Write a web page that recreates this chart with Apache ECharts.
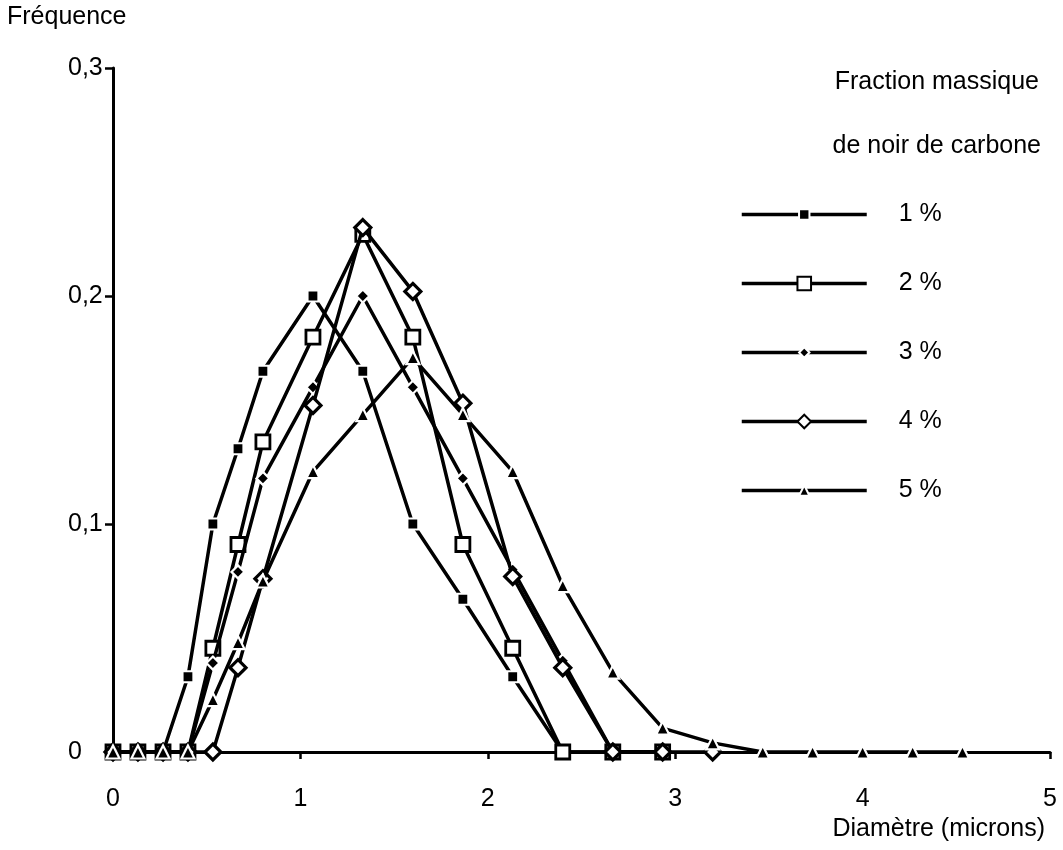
<!DOCTYPE html>
<html><head><meta charset="utf-8">
<script src="https://cdn.jsdelivr.net/npm/echarts@6/dist/echarts.min.js"></script>
<style>html,body{margin:0;padding:0;background:#fff}#c{width:1063px;height:850px}</style>
</head><body><div id="c"></div>
<script>
// Diameter (microns) of each size class
const diameters = [0, 0.133, 0.267, 0.4, 0.533, 0.667, 0.8, 1.067, 1.333, 1.6, 1.867, 2.133, 2.4, 2.667, 2.933, 3.2, 3.467, 3.733, 4.0, 4.267, 4.533];
// Frequencies per carbon-black mass fraction
const freq1 = [0, 0, 0, 0.033, 0.1, 0.133, 0.167, 0.2, 0.167, 0.1, 0.067, 0.033, 0, 0, 0];
const freq2 = [0, 0, 0, 0, 0.0455, 0.091, 0.136, 0.182, 0.227, 0.182, 0.091, 0.0455, 0, 0, 0];
const freq3 = [0, 0, 0, 0, 0.039, 0.079, 0.12, 0.16, 0.2, 0.16, 0.12, 0.08, 0.04, 0, 0];
const freq4 = [0, 0, 0, 0, 0, 0.037, 0.076, 0.152, 0.23, 0.202, 0.153, 0.077, 0.037, 0, 0, 0];
const freq5 = [0, 0, 0, 0, 0.023, 0.048, 0.075, 0.123, 0.148, 0.173, 0.148, 0.123, 0.073, 0.035, 0.0105, 0.004, 0, 0, 0, 0, 0];
const seriesNames = ['1 %', '2 %', '3 %', '4 %', '5 %'];
const xTickLabels = ['0', '1', '2', '3', '4', '5'];
const yTickLabels = ['0', '0,1', '0,2', '0,3'];

const FONT = 'Liberation Sans, Arial, Helvetica, sans-serif';
const FS = 25;
const pairs = v => v.map((y, i) => [diameters[i], y]);

const markerStyles = [
  {symbol: 'rect', symbolSize: 11, itemStyle: {color: '#000', borderColor: '#fff', borderWidth: 2.2}},
  {symbol: 'rect', symbolSize: 14, itemStyle: {color: '#fff', borderColor: '#000', borderWidth: 2.8}},
  {symbol: 'diamond', symbolSize: 13, itemStyle: {color: '#000', borderColor: '#fff', borderWidth: 2.2}},
  {symbol: 'diamond', symbolSize: 16, itemStyle: {color: '#fff', borderColor: '#000', borderWidth: 3.2}},
  {symbol: 'triangle', symbolSize: 13, itemStyle: {color: '#000', borderColor: '#fff', borderWidth: 2.2}}
];
const allFreq = [freq1, freq2, freq3, freq4, freq5];

const series = allFreq.map((f, i) => Object.assign({
  name: seriesNames[i],
  type: 'line',
  data: pairs(f),
  showSymbol: true,
  showAllSymbol: true,
  lineStyle: {color: '#000', width: 3.5},
  emphasis: {disabled: true},
  animation: false,
  z: 2 + i
}, markerStyles[i]));

const legendBase = {
  orient: 'vertical', left: 740, padding: 0, itemWidth: 125,
  itemGap: 113, selectedMode: false,
  lineStyle: {width: 3.5, color: '#000'},
  textStyle: {fontFamily: FONT, fontSize: FS, color: '#000', lineHeight: 24, padding: [0, 0, 0, 27]}
};
const titleStyle = {fontFamily: FONT, fontSize: FS, fontWeight: 'normal', color: '#000'};

const chart = echarts.init(document.getElementById('c'), null, {renderer: 'canvas'});
chart.setOption({
  backgroundColor: '#fff',
  animation: false,
  title: [
    {text: 'Fréquence', left: 7, top: 5, textStyle: titleStyle, padding: 0},
    {text: 'Fraction massique', right: 24, top: 70, textStyle: titleStyle, padding: 0},
    {text: 'de noir de carbone', right: 22, top: 134, textStyle: titleStyle, padding: 0},
    {text: 'Diamètre (microns)', right: 18, top: 817, textStyle: titleStyle, padding: 0}
  ],
  legend: [
    Object.assign({}, legendBase, {data: ['1 %', '3 %', '5 %'], top: 202, itemHeight: 13}),
    Object.assign({}, legendBase, {data: ['2 %', '4 %'], top: 271, itemHeight: 17})
  ],
  grid: {left: 113, right: 13, top: 68, bottom: 98, containLabel: false},
  xAxis: {
    type: 'value', min: 0, max: 5, interval: 1,
    axisLine: {onZero: false, lineStyle: {color: '#000', width: 3}},
    axisTick: {show: true, length: 7, lineStyle: {color: '#000', width: 2.5}},
    splitLine: {show: false},
    axisLabel: {margin: 35, fontFamily: FONT, fontSize: FS, color: '#000',
      formatter: v => xTickLabels[Math.round(v)]}
  },
  yAxis: {
    type: 'value', min: 0, max: 0.3, interval: 0.1,
    axisLine: {show: true, lineStyle: {color: '#000', width: 3}},
    axisTick: {show: true, length: 8, lineStyle: {color: '#000', width: 2.5}},
    splitLine: {show: false},
    axisLabel: {margin: 45, align: 'left', fontFamily: FONT, fontSize: FS, color: '#000',
      formatter: v => yTickLabels[Math.round(v * 10)]}
  },
  series: series
});
</script></body></html>
